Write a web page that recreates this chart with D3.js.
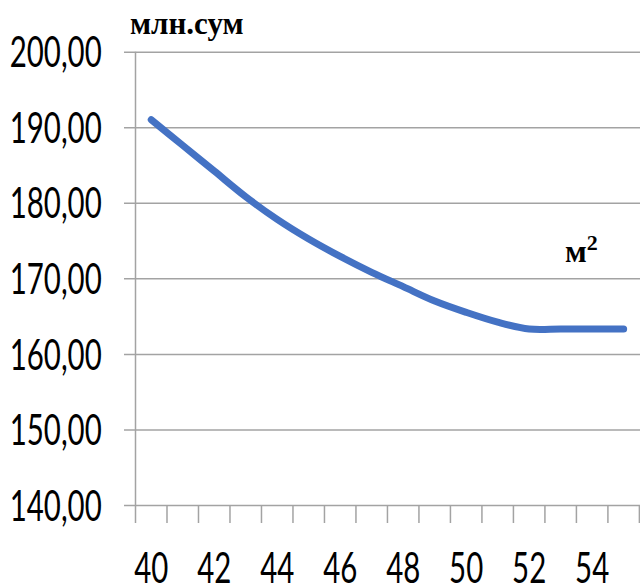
<!DOCTYPE html>
<html>
<head>
<meta charset="utf-8">
<script src="https://cdn.jsdelivr.net/npm/d3@7"></script>
<style>
  html, body { margin: 0; padding: 0; background: #fff; }
  svg { display: block; }
</style>
</head>
<body>
<svg id="chart" width="640" height="586"></svg>
<script>
// ---- data ----
const categories = [40, 41, 42, 43, 44, 45, 46, 47, 48, 49, 50, 51, 52, 53, 54, 55];
const values = [191.0, 187.6, 184.2, 180.8, 177.8, 175.2, 172.9, 170.8, 168.9, 167.0, 165.5, 164.2, 163.3, 163.3, 163.3, 163.3];
const yTicks = [140, 150, 160, 170, 180, 190, 200];
const xLabels = [40, 42, 44, 46, 48, 50, 52, 54];
const yUnit = "млн.сум";
const xUnit = "м";
const xUnitSup = "2";

// ---- layout ----
const W = 640, H = 586;
const plotLeft = 135.5, plotRight = 639.4, plotTop = 51.7, plotBottom = 505;
const labelFont = "Lato, 'Open Sans', 'DejaVu Sans', sans-serif";
const labelSize = 42;
const gridColor = "#a3a3a3";
const fmt = d => d3.format(".2f")(d).replace(".", ",");

const svg = d3.select("#chart");

// measure label font width to get horizontal compression
const probe = svg.append("text")
  .attr("font-family", labelFont).attr("font-size", labelSize)
  .text(fmt(yTicks[yTicks.length - 1]));
const probeW = probe.node().getComputedTextLength();
probe.remove();
const sx = 92 / probeW;

const x = d3.scaleBand().domain(categories).range([plotLeft, plotRight]).padding(0);
const y = d3.scaleLinear().domain([140, 200]).range([plotBottom, plotTop]);

// y axis with gridlines
const yAxis = d3.axisLeft(y)
  .tickValues(yTicks)
  .tickSizeOuter(0)
  .tickFormat(fmt);

const gy = svg.append("g")
  .attr("transform", `translate(${plotLeft},0)`)
  .call(yAxis);
gy.select(".domain").attr("stroke", gridColor).attr("stroke-width", 1.5)
  .attr("d", `M0,${plotTop}V${plotBottom}`);
gy.selectAll(".tick line")
  .attr("x1", -11.5).attr("x2", W - plotLeft)
  .attr("stroke", gridColor).attr("stroke-width", 1.5);
gy.selectAll(".tick text")
  .attr("x", null).attr("dy", null)
  .attr("text-anchor", "end")
  .attr("font-family", labelFont)
  .attr("font-size", labelSize)
  .attr("fill", "#000")
  .attr("y", labelSize * 0.36)
  .attr("transform", `translate(${101.7 - plotLeft},0) scale(${sx},1)`);

// x axis: labels at band centres, tick marks on band boundaries
const xAxis = d3.axisBottom(x)
  .tickValues(xLabels)
  .tickSize(0)
  .tickPadding(0);
const gx = svg.append("g")
  .attr("transform", `translate(0,${plotBottom})`)
  .call(xAxis);
gx.select(".domain").remove();
gx.selectAll(".tick text")
  .attr("dy", null)
  .attr("font-family", labelFont)
  .attr("font-size", labelSize)
  .attr("fill", "#000")
  .attr("y", labelSize * 0.36)
  .attr("transform", `translate(0,62.5) scale(${sx},1)`);

const boundaries = categories.map(c => x(c)).concat([x(categories[categories.length - 1]) + x.bandwidth()]);
gx.selectAll("line.boundary")
  .data(boundaries)
  .join("line")
  .attr("class", "boundary")
  .attr("x1", d => d).attr("x2", d => d)
  .attr("y1", 0).attr("y2", 18)
  .attr("stroke", gridColor).attr("stroke-width", 1.5);

// data line
const line = d3.line()
  .x((d, i) => x(categories[i]) + x.bandwidth() / 2)
  .y(d => y(d))
  .curve(d3.curveCatmullRom);

svg.append("path")
  .datum(values)
  .attr("d", line)
  .attr("fill", "none")
  .attr("stroke", "#4472C4")
  .attr("stroke-width", 7)
  .attr("stroke-linecap", "round")
  .attr("stroke-linejoin", "round");

// unit labels
svg.append("text")
  .attr("x", 130).attr("y", 34.3)
  .attr("font-family", "'Liberation Serif', 'Times New Roman', serif")
  .attr("font-weight", "bold")
  .attr("font-size", 31)
  .attr("fill", "#000")
  .text(yUnit);

const mt = svg.append("text")
  .attr("x", 565).attr("y", 261.7)
  .attr("font-family", "'Liberation Serif', 'Times New Roman', serif")
  .attr("font-weight", "bold")
  .attr("font-size", 32)
  .attr("fill", "#000");
mt.append("tspan").text(xUnit);
mt.append("tspan").attr("dy", -12).attr("font-size", 22).text(xUnitSup);
</script>
</body>
</html>
